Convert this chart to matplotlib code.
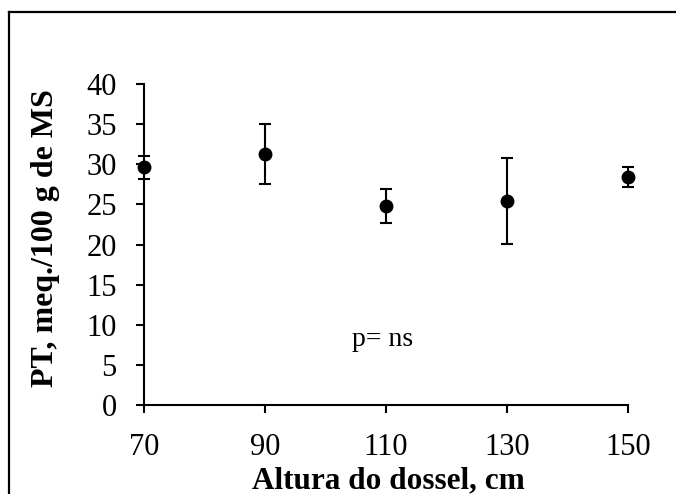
import matplotlib
matplotlib.use("Agg")
import matplotlib.pyplot as plt
from matplotlib.lines import Line2D

plt.rcParams['font.family'] = ['Liberation Serif', 'DejaVu Serif']

# dados
altura = [70, 90, 110, 130, 150]
pt = [29.6, 31.3, 24.8, 25.4, 28.4]
erro = [1.4, 3.7, 2.15, 5.35, 1.2]

W, H = 676, 494
fig = plt.figure(figsize=(W / 100, H / 100), dpi=100)
ax = fig.add_axes([144 / W, 1 - 405 / H, (628 - 144) / W, (405 - 84) / H])

ax.errorbar(altura, pt, yerr=erro, fmt='o', color='black', ms=9,
            elinewidth=1.5, capsize=4.5, capthick=1.5, clip_on=False)

ax.set_xlim(70, 150)
ax.set_ylim(0, 40)
ax.set_xticks([70, 90, 110, 130, 150])
ax.set_yticks(range(0, 41, 5))
for s in ['top', 'right']:
    ax.spines[s].set_visible(False)
for s in ['left', 'bottom']:
    ax.spines[s].set_linewidth(1.5)
ax.tick_params(axis='y', direction='out', length=6, width=1.5, pad=13.7, labelsize=22)
ax.tick_params(axis='x', direction='out', length=6, width=1.5, pad=14, labelsize=22)

ax.text(109.5, 7.35, 'p= ns', ha='center', va='baseline', fontsize=20)

fig.text(388 / W, 1 - 488 / H, 'Altura do dossel, cm', ha='center', va='baseline',
         fontsize=22.5, fontweight='bold')
fig.text(53 / W, 1 - 238 / H, 'PT, meq./100 g de MS', ha='center', va='baseline',
         rotation=90, rotation_mode='anchor', fontsize=23, fontweight='bold')

# moldura
fig.add_artist(Line2D([9 / W, 1.0], [1 - 12 / H, 1 - 12 / H], color='black', lw=1.6,
                      transform=fig.transFigure))
fig.add_artist(Line2D([9 / W, 9 / W], [1 - 12 / H, 0.0], color='black', lw=1.6,
                      transform=fig.transFigure))

fig.savefig('out.png', dpi=100)
